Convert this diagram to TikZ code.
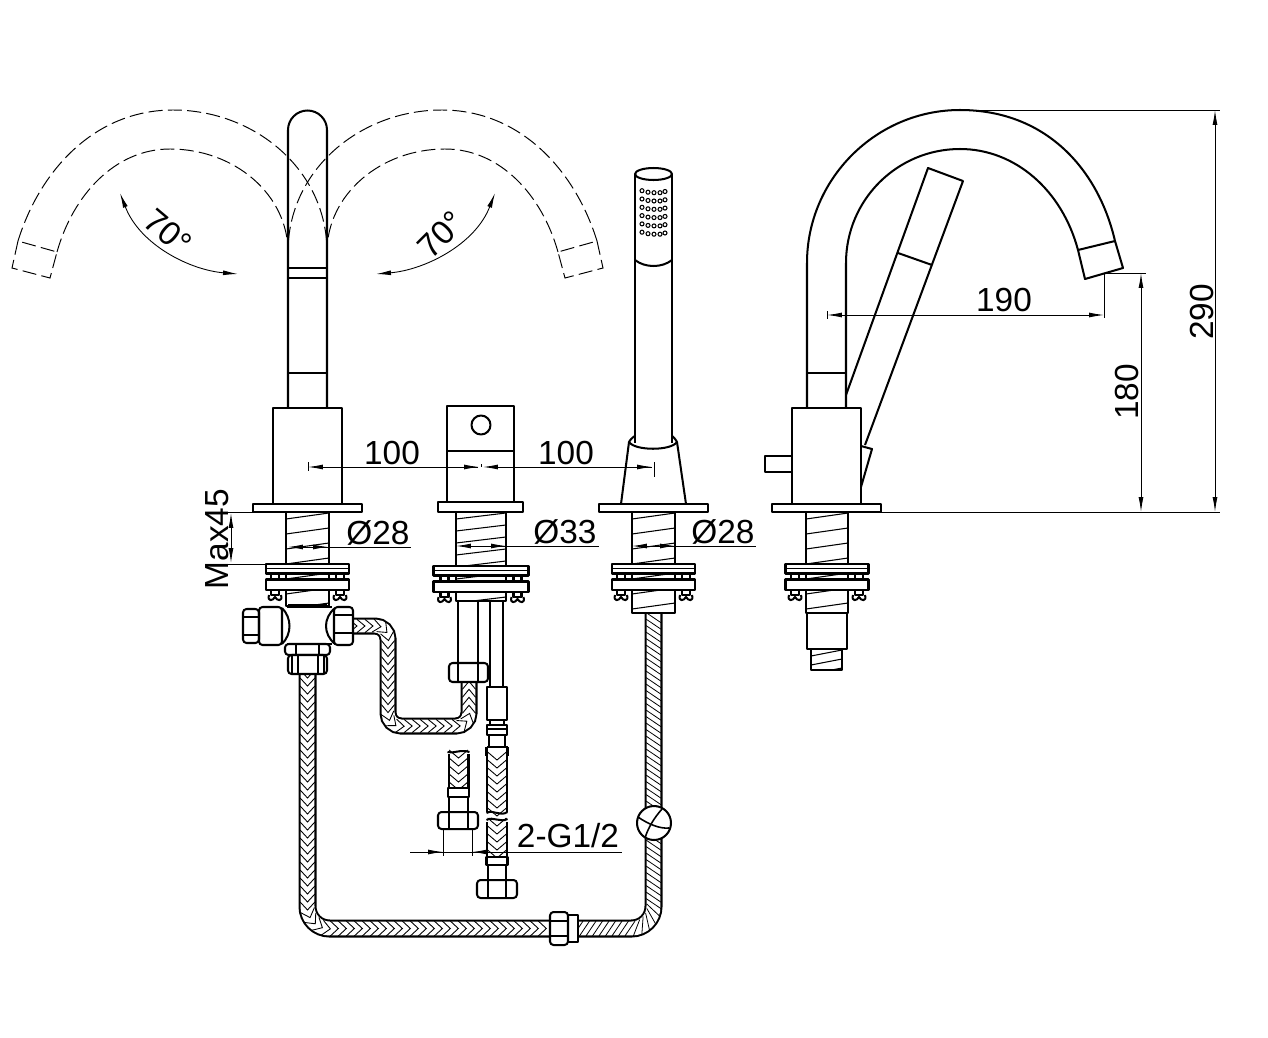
\documentclass[tikz,border=0pt]{standalone}
\usepackage{fontspec}
\setmainfont{Liberation Sans}
\usepackage{tikz}
\usetikzlibrary{arrows.meta}
\usetikzlibrary{decorations.markings}
\tikzset{
  part/.style={line width=1.15pt, line join=round},
  fine/.style={line width=.6pt},
  swung/.style={line width=.55pt, dash pattern=on 8pt off 3pt},
  dimline/.style={line width=.5pt, >={Latex[length=8.5pt,width=2.8pt]}},
  dimtext/.style={inner sep=0pt, font=\fontsize{19}{21}\selectfont},
  braid/.style={decorate, decoration={markings,
    mark=between positions 0 and 1 step .16cm with {\draw[line width=.5pt, sharp corners] (-4,-#1) -- (4,0) -- (-4,#1);}}},
  slant/.style={decorate, decoration={markings,
    mark=between positions 0 and 1 step .13cm with {\draw[line width=.45pt, sharp corners] (-5,#1) -- (5,-#1);}}}
}
% hose: outer width, bend radius, filling, route
\newcommand{\hose}[4]{
  \draw[line width=#1, rounded corners=#2] #4;
  \draw[white, line width=#1-2.3pt, rounded corners=#2] #4;
  \path[#3, rounded corners=#2] #4;
}
% threaded rod: centre, half width, top, bottom, pitch
\newcommand{\threadrod}[5]{
  \begin{scope}
    \clip ({#1-#2},#3) rectangle ({#1+#2},#4);
    \foreach \k in {0,...,9}
      \draw[fine] ({#1-#2},{#3+7+\k*#5}) -- ({#1+#2},{#3+1+\k*#5});
  \end{scope}
  \draw[part] ({#1-#2},#3) rectangle ({#1+#2},#4);
}
% washers and clamp screws: centre, half width, top of upper washer, screw offset
\newcommand{\clampset}[4]{
  \foreach \s in {-1,1} {
    \draw[part, fill=white] ({#1+\s*#4-4},{#3+9}) rectangle ({#1+\s*#4+4},{#3+31});
    \draw[part] ({#1+\s*#4-6},{#3+31}) .. controls ({#1+\s*#4-8},{#3+38}) and ({#1+\s*#4-2},{#3+37}) .. ({#1+\s*#4},{#3+33}) .. controls ({#1+\s*#4+2},{#3+37}) and ({#1+\s*#4+8},{#3+38}) .. ({#1+\s*#4+6},{#3+31});
  }
  \draw[part, fill=white] ({#1-#2},#3) rectangle ({#1+#2},{#3+9.5});
  \draw[fine] ({#1-#2},{#3+4.5}) -- ({#1+#2},{#3+4.5});
  \draw[part, fill=white] ({#1-#2},{#3+15.5}) rectangle ({#1+#2},{#3+26});
}
% swung spout, seen from the side, dashed
\newcommand{\swungspout}{
  \draw[swung] (18,241) .. controls (40,170) and (95,110) .. (173,110) .. controls (255,110) and (327,170) .. (327,252);
  \draw[swung] (57,252) .. controls (73,195) and (115,149) .. (170,149) .. controls (235,149) and (288,195) .. (288,252);
  \draw[swung] (18,241) -- (12,268) -- (50,278) -- (57,252) -- cycle;
}
\begin{document}
\begin{tikzpicture}[x=.02cm, y=-.02cm]
  \useasboundingbox (0,0) rectangle (1268,1038);
  \fill[white] (0,0) rectangle (1268,1038);

  % swung spouts
  \swungspout
  \begin{scope}[shift={(615,0)}, xscale=-1]
    \swungspout
  \end{scope}
  \draw[dimline, <->] (120,193) .. controls (140,245) and (190,270) .. (238,274);
  \draw[dimline, <->] (376,274) .. controls (424,270) and (475,245) .. (495,193);
  \node[dimtext, rotate=-40] (anglea) at (168,232) {70°};
  \node[dimtext, rotate=45] (angleb) at (441,235) {70°};

  % left mixer spout
  \draw[part] (288,408) -- (288,130) arc[start angle=180, end angle=360, radius=19.5] -- (327,408);
  \draw[part] (288,268) -- (327,268);
  \draw[fine] (288,278) -- (327,278);
  \draw[part] (288,373) -- (327,373);
  \draw[part] (273,408) rectangle (342,504);
  \draw[part, fill=white] (253,504) rectangle (362,512);
  \threadrod{307.5}{21.5}{512}{606}{15}
  \clampset{307.5}{41.5}{564}{32.5}

  % mixing tee with its nuts
  \draw[part, line width=2pt] (288,606) -- (327,606);
  \draw[part] (287,607) -- (332,607) (287,644) -- (332,644);
  \draw[part] (282,608) .. controls (292,618) and (292,634) .. (282,644);
  \draw[part] (335,608) .. controls (323,618) and (323,634) .. (335,644);
  \draw[part, rounded corners=2pt] (259,607) rectangle (282,645);
  \draw[part, rounded corners=2pt] (243,609) rectangle (259,643);
  \draw[part] (243,617) -- (259,617) (243,635) -- (259,635);

  % braided hoses
  \hose{.34cm}{.26cm}{braid=6.6}{(353,626) -- (388,626) -- (388,726) -- (469,726) -- (469,682)}
  \hose{.36cm}{.44cm}{braid=7.4}{(307.5,674) -- (307.5,928.5) -- (550,928.5)}
  \hose{.36cm}{.44cm}{slant=7.4}{(578,928.5) -- (653.5,928.5) -- (653.5,613)}

  \draw[part, rounded corners=2pt, fill=white] (334,607) rectangle (353,645);
  \draw[part] (334,615) -- (353,615) (334,633) -- (353,633);
  \draw[part, rounded corners=2pt, fill=white] (285,644) rectangle (330,655);
  \draw[part] (296,644) -- (296,655) (319,644) -- (319,655);
  \draw[part, rounded corners=2pt, fill=white] (288,655) rectangle (327,674);
  \draw[fine] (292,655) -- (292,674) (298,655) -- (298,674) (318,655) -- (318,674) (324,655) -- (324,674);

  % coupling on the shower hose
  \draw[part, fill=white] (568,915) rectangle (578,942);
  \draw[part, fill=white, rounded corners=2pt] (550,912) rectangle (568,945);
  \draw[part] (550,921) -- (568,921) (550,936) -- (568,936);

  % hose guide ball
  \draw[part, fill=white] (654,823) circle (17);
  \draw[fine, line width=.9pt] (638,817) .. controls (648,824) and (660,829) .. (669,828);
  \draw[fine, line width=.9pt] (662,809) .. controls (654,818) and (648,828) .. (645,838);

  % middle valve
  \draw[part] (447,406) rectangle (514,502);
  \draw[part] (447,451) -- (514,451);
  \draw[part] (481,425) circle (9.5);
  \draw[part, fill=white] (438,502) rectangle (523,512);
  \threadrod{481}{25}{512}{601}{12}
  \clampset{481}{47.5}{566}{36.5}

  % pipes below the middle valve
  \draw[part] (458,601) -- (458,663);
  \draw[fine, line width=.8pt] (478,601) -- (478,663);
  \draw[part] (490,601) -- (490,687) (503,601) -- (503,687);
  \draw[part, rounded corners=2pt, fill=white] (449,663) rectangle (488,682);
  \draw[part] (458,663) -- (458,682) (478,663) -- (478,682);
  \draw[part, fill=white] (487,687) rectangle (507,720);
  \draw[part] (490,720) -- (490,725) (504,720) -- (504,725);
  \draw[part] (487,725) rectangle (507,735);
  \draw[fine] (487,729) -- (507,729);
  \draw[part] (489,735) -- (489,747) (505,735) -- (505,747);

  % long supply hose, broken
  \draw[part] (486.5,747) -- (507.5,747);
  \draw[part] (486.5,747) -- (486.5,756) (507.5,747) -- (507.5,756);
  \hose{.44cm}{0pt}{braid=9.4}{(497,756) -- (497,812)}
  \hose{.44cm}{0pt}{braid=9.4}{(497,822) -- (497,857)}
  \draw[part] (486.5,813) .. controls (493,809) and (500,817) .. (507.5,812);
  \draw[part] (486.5,820) .. controls (493,816) and (500,823) .. (507.5,819);
  \draw[part, fill=white] (486.5,857) rectangle (507.5,865);
  \draw[part] (488,865) -- (488,880) (506,865) -- (506,880);
  \draw[part, rounded corners=2pt, fill=white] (477,880) rectangle (517,898);
  \draw[part] (488,880) -- (488,898) (506,880) -- (506,898);

  % short supply hose, broken
  \hose{.44cm}{0pt}{braid=9.4}{(458.5,754) -- (458.5,788)}
  \draw[part] (447.5,752) .. controls (453,754) and (460,749) .. (469.5,752);
  \draw[part, fill=white] (448,788) rectangle (469,797);
  \draw[part] (449,797) -- (449,812) (468,797) -- (468,812);
  \draw[part, rounded corners=2pt, fill=white] (438,812) rectangle (478,829);
  \draw[part] (449,812) -- (449,829) (468,812) -- (468,829);

  % hand shower
  \draw[part] (635,174) -- (635,443) (672,174) -- (672,443);
  \draw[part] (653.5,174) ellipse (18.5 and 6);
  \draw[part] (635,260) .. controls (645,268) and (662,268) .. (672,260);
  \foreach \hx/\hy in {642/0, 648/1.5, 654/2, 660/2, 665/0.8}
    \foreach \hrow in {0,...,5}
      \draw[fine] (\hx,{190.7+\hy+\hrow*8.3}) circle (2);
  \draw[part] (621,504) -- (629,442) .. controls (631,438) and (635,436) .. (635,436);
  \draw[part] (686,504) -- (677,442) .. controls (675,438) and (672,436) .. (672,436);
  \draw[part] (629,442) .. controls (635,451) and (671,451) .. (677,442);
  \draw[part, fill=white] (599,504) rectangle (708,512);
  \threadrod{653.5}{21.5}{512}{613}{15}
  \clampset{653.5}{41.5}{564}{32.5}

  % side view
  \draw[part] (807,408) -- (807,263) .. controls (807,179) and (876,110) .. (960,110) .. controls (1045,110) and (1098,168) .. (1115,241);
  \draw[part] (846,408) -- (846,263) .. controls (846,200) and (897,149) .. (960,149) .. controls (1015,149) and (1062,190) .. (1078,250);
  \draw[part] (1115,241) -- (1123,268) -- (1085,279) -- (1078,250) -- cycle;
  \draw[part] (807,373) -- (846,373);
  \draw[part] (846,395) -- (928,168) -- (963,181) -- (865,445);
  \draw[part] (898,253) -- (932,265);
  \draw[part] (861,446) -- (872,449) -- (861,487);
  \draw[part] (792,408) rectangle (861,504);
  \draw[part] (765,456) rectangle (792,472);
  \draw[part, fill=white] (772,504) rectangle (881,512);
  \threadrod{827}{21}{512}{613}{15}
  \clampset{827}{41.5}{564}{32}
  \draw[part] (807,613) rectangle (847,649);
  \threadrod{826.5}{15.5}{649}{670}{9}

  % dimensions
  \draw[dimline] (881,512) -- (1220,512);
  \draw[dimline] (960,110) -- (1220,110);
  \draw[dimline] (1104,273) -- (1146,273);
  \draw[dimline] (1104,273) -- (1104,318);
  \draw[dimline, <->] (1215,110) -- (1215,512);
  \draw[dimline, <->] (1141,273) -- (1141,512);
  \draw[dimline, <->] (827,315) -- (1104,315);
  \draw[dimline] (827,311) -- (827,319);
  \node[dimtext, rotate=90] (heighta) at (1202,312) {290};
  \node[dimtext, rotate=90] (heightb) at (1127,392) {180};
  \node[dimtext] (reach) at (1004,300) {190};

  \draw[dimline, <-] (308,467) -- (478,467);
  \draw[dimline, ->] (464,467) -- (479,467);
  \draw[dimline, <-] (483,467) -- (652,467);
  \draw[dimline, ->] (637,467) -- (652,467);
  \draw[dimline] (308,462) -- (308,471) (481,464) -- (481,467) (654,462) -- (654,477);
  \node[dimtext] (spacea) at (392,453) {100};
  \node[dimtext] (spaceb) at (566,453) {100};

  \draw[dimline, <-] (288,547) -- (411,547);
  \draw[dimline, ->] (313,547) -- (328,547);
  \node[dimtext] (borea) at (378,533) {Ø28};
  \draw[dimline, <-] (456,546) -- (599,546);
  \draw[dimline, ->] (491,546) -- (506,546);
  \node[dimtext] (boreb) at (565,532) {Ø33};
  \draw[dimline, <-] (632,546) -- (756,546);
  \draw[dimline, ->] (660,546) -- (675,546);
  \node[dimtext] (borec) at (723,532) {Ø28};

  \draw[dimline] (228,512) -- (253,512) (228,564) -- (266,564);
  \draw[dimline, <->] (231,513) -- (231,563);
  \node[dimtext, rotate=90] (deck) at (217,539) {Max45};

  \draw[dimline] (410,852) -- (622,852);
  \draw[dimline, ->] (427,852) -- (443,852);
  \draw[dimline, ->] (490,852) -- (472,852);
  \draw[dimline] (443,829) -- (443,856) (472,829) -- (472,856);
  \node[dimtext] (supply) at (568,836) {2-G1/2};
\end{tikzpicture}
\end{document}
